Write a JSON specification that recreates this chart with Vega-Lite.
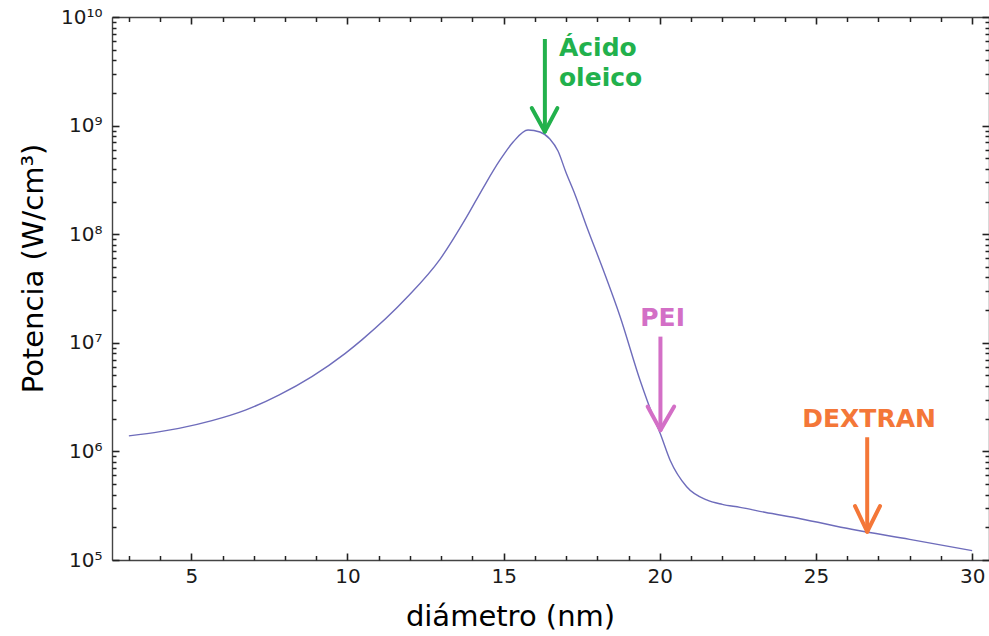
{
  "$schema": "https://vega.github.io/schema/vega-lite/v6.json",
  "width": 877,
  "height": 543,
  "autosize": {"type": "none"},
  "padding": {"left": 112, "top": 17, "right": 0, "bottom": 76},
  "background": "white",
  "config": {
    "view": {"stroke": null},
    "font": "DejaVu Sans",
    "axis": {
      "grid": false,
      "domainColor": "#444444",
      "domainWidth": 1.4,
      "labelFont": "DejaVu Sans",
      "labelFontSize": 20,
      "labelColor": "#1a1a1a",
      "titleFont": "DejaVu Sans",
      "titleFontSize": 29,
      "titleFontWeight": "normal",
      "titleColor": "#000000"
    }
  },
  "datasets": {
    "curve": [
      {"d": 3.0, "p": 1390000},
      {"d": 4.0, "p": 1520000},
      {"d": 4.6, "p": 1630000},
      {"d": 5.66, "p": 1920000},
      {"d": 6.73, "p": 2400000},
      {"d": 7.8, "p": 3300000},
      {"d": 8.86, "p": 4890000},
      {"d": 9.93, "p": 8000000},
      {"d": 10.47, "p": 10700000},
      {"d": 11.9, "p": 26100000},
      {"d": 12.96, "p": 58700000},
      {"d": 13.82, "p": 145000000},
      {"d": 14.35, "p": 269000000},
      {"d": 14.88, "p": 480000000},
      {"d": 15.31, "p": 710000000},
      {"d": 15.78, "p": 910000000},
      {"d": 16.16, "p": 873000000},
      {"d": 16.48, "p": 753000000},
      {"d": 16.74, "p": 583000000},
      {"d": 16.99, "p": 374000000},
      {"d": 17.29, "p": 230000000},
      {"d": 17.66, "p": 117000000},
      {"d": 18.19, "p": 46800000},
      {"d": 18.73, "p": 17400000},
      {"d": 19.37, "p": 4500000},
      {"d": 19.79, "p": 2090000},
      {"d": 20.01, "p": 1470000},
      {"d": 20.33, "p": 830000},
      {"d": 20.86, "p": 473000},
      {"d": 21.5, "p": 357000},
      {"d": 22.0, "p": 325000},
      {"d": 22.57, "p": 305000},
      {"d": 23.36, "p": 275000},
      {"d": 24.5, "p": 240000},
      {"d": 26.14, "p": 192000},
      {"d": 28.0, "p": 155000},
      {"d": 30.0, "p": 122000}
    ],
    "arrows": [
      {"g": "oleico", "part": "shaft", "x": 16.32, "y": 6270000000, "x2": 16.32, "y2": 879000000},
      {"g": "oleico", "part": "head", "x": 15.9, "y": 1450000000, "x2": 16.32, "y2": 879000000},
      {"g": "oleico", "part": "head", "x": 16.72, "y": 1450000000, "x2": 16.32, "y2": 879000000},
      {"g": "PEI", "part": "shaft", "x": 20.02, "y": 11400000, "x2": 20.02, "y2": 1570000},
      {"g": "PEI", "part": "head", "x": 19.61, "y": 2590000, "x2": 20.02, "y2": 1570000},
      {"g": "PEI", "part": "head", "x": 20.46, "y": 2590000, "x2": 20.02, "y2": 1570000},
      {"g": "DEXTRAN", "part": "shaft", "x": 26.64, "y": 1350000, "x2": 26.64, "y2": 182000},
      {"g": "DEXTRAN", "part": "head", "x": 26.25, "y": 314000, "x2": 26.64, "y2": 182000},
      {"g": "DEXTRAN", "part": "head", "x": 27.05, "y": 314000, "x2": 26.64, "y2": 182000}
    ],
    "labels": [
      {"g": "oleico", "t": "Ácido", "x": 16.77, "y": 5190000000, "al": "left"},
      {"g": "oleico", "t": "oleico", "x": 16.77, "y": 2740000000, "al": "left"},
      {"g": "PEI", "t": "PEI", "x": 20.09, "y": 16800000, "al": "center"},
      {"g": "DEXTRAN", "t": "DEXTRAN", "x": 26.7, "y": 1980000, "al": "center"}
    ]
  },
  "layer": [
    {
      "data": {"name": "curve"},
      "mark": {"type": "line", "color": "#6e6cbb", "strokeWidth": 1.4, "interpolate": "monotone", "clip": true},
      "encoding": {
        "x": {
          "field": "d", "type": "quantitative",
          "scale": {"domain": [2.46, 30.54], "nice": false, "zero": false},
          "axis": {"orient": "bottom", "values": [5, 10, 15, 20, 25, 30], "ticks": false, "labelPadding": 6, "title": "diámetro (nm)", "titlePadding": 16, "titleX": 398, "labelFlush": false}
        },
        "y": {
          "field": "p", "type": "quantitative",
          "scale": {"type": "log", "domain": [100000, 10000000000], "nice": false},
          "axis": {
            "orient": "left",
            "values": [100000, 1000000, 10000000, 100000000, 1000000000, 10000000000],
            "ticks": false, "labelPadding": 10,
            "labelExpr": "'10' + ['⁰','¹','²','³','⁴','⁵','⁶','⁷','⁸','⁹','¹⁰'][round(log(datum.value)/LN10)]",
            "title": "Potencia (W/cm³)", "titlePadding": 12, "titleY": 251
          }
        }
      }
    },
    {
      "data": {"name": "arrows"},
      "transform": [{"filter": "datum.part === 'shaft'"}],
      "mark": {"type": "rule", "strokeWidth": 4, "strokeCap": "butt"},
      "encoding": {
        "x": {"field": "x", "type": "quantitative",
          "axis": {"orient": "top", "offset": -543, "values": [5, 10, 15, 20, 25, 30], "ticks": true, "tickSize": 7, "tickWidth": 1.6, "tickColor": "#222222", "labels": false, "domain": false, "title": null}},
        "y": {"field": "y", "type": "quantitative",
          "axis": {"orient": "right", "offset": -877, "values": [100000, 1000000, 10000000, 100000000, 1000000000, 10000000000], "ticks": true, "tickSize": 7, "tickWidth": 1.6, "tickColor": "#222222", "labels": false, "domain": false, "title": null}},
        "x2": {"field": "x2"},
        "y2": {"field": "y2"},
        "color": {"field": "g", "type": "nominal", "scale": {"domain": ["oleico", "PEI", "DEXTRAN"], "range": ["#22b14c", "#d36fc6", "#f47738"]}, "legend": null}
      }
    },
    {
      "data": {"name": "arrows"},
      "transform": [{"filter": "datum.part === 'head'"}],
      "mark": {"type": "rule", "strokeWidth": 4, "strokeCap": "round"},
      "encoding": {
        "x": {"field": "x", "type": "quantitative",
          "axis": {"orient": "top", "offset": -543, "values": [3, 4, 6, 7, 8, 9, 11, 12, 13, 14, 16, 17, 18, 19, 21, 22, 23, 24, 26, 27, 28, 29], "ticks": true, "tickSize": 4.5, "tickWidth": 1.5, "tickColor": "#222222", "labels": false, "domain": false, "title": null}},
        "y": {"field": "y", "type": "quantitative",
          "axis": {"orient": "right", "offset": -877, "values": [200000, 300000, 400000, 500000, 600000, 700000, 800000, 900000, 2000000, 3000000, 4000000, 5000000, 6000000, 7000000, 8000000, 9000000, 20000000, 30000000, 40000000, 50000000, 60000000, 70000000, 80000000, 90000000, 200000000, 300000000, 400000000, 500000000, 600000000, 700000000, 800000000, 900000000, 2000000000, 3000000000, 4000000000, 5000000000, 6000000000, 7000000000, 8000000000, 9000000000], "ticks": true, "tickSize": 4, "tickWidth": 1.5, "tickColor": "#222222", "labels": false, "domain": false, "title": null}},
        "x2": {"field": "x2"},
        "y2": {"field": "y2"},
        "color": {"field": "g", "type": "nominal", "legend": null}
      }
    },
    {
      "data": {"name": "labels"},
      "transform": [{"filter": "datum.al === 'left'"}],
      "mark": {"type": "text", "align": "left", "baseline": "middle", "fontSize": 25, "fontWeight": "bold", "font": "DejaVu Sans"},
      "encoding": {
        "x": {"field": "x", "type": "quantitative",
          "axis": {"orient": "bottom", "offset": -543, "values": [5, 10, 15, 20, 25, 30], "ticks": true, "tickSize": 7, "tickWidth": 1.6, "tickColor": "#222222", "labels": false, "domain": true, "title": null}},
        "y": {"field": "y", "type": "quantitative",
          "axis": {"orient": "left", "offset": -877, "values": [100000, 1000000, 10000000, 100000000, 1000000000, 10000000000], "ticks": true, "tickSize": 7, "tickWidth": 1.6, "tickColor": "#222222", "labels": false, "domain": true, "title": null}},
        "text": {"field": "t"},
        "color": {"field": "g", "type": "nominal", "legend": null}
      }
    },
    {
      "data": {"name": "labels"},
      "transform": [{"filter": "datum.al === 'center'"}],
      "mark": {"type": "text", "align": "center", "baseline": "middle", "fontSize": 25, "fontWeight": "bold", "font": "DejaVu Sans"},
      "encoding": {
        "x": {"field": "x", "type": "quantitative",
          "axis": {"orient": "bottom", "offset": -543, "values": [3, 4, 6, 7, 8, 9, 11, 12, 13, 14, 16, 17, 18, 19, 21, 22, 23, 24, 26, 27, 28, 29], "ticks": true, "tickSize": 4.5, "tickWidth": 1.5, "tickColor": "#222222", "labels": false, "domain": false, "title": null}},
        "y": {"field": "y", "type": "quantitative",
          "axis": {"orient": "left", "offset": -877, "values": [200000, 300000, 400000, 500000, 600000, 700000, 800000, 900000, 2000000, 3000000, 4000000, 5000000, 6000000, 7000000, 8000000, 9000000, 20000000, 30000000, 40000000, 50000000, 60000000, 70000000, 80000000, 90000000, 200000000, 300000000, 400000000, 500000000, 600000000, 700000000, 800000000, 900000000, 2000000000, 3000000000, 4000000000, 5000000000, 6000000000, 7000000000, 8000000000, 9000000000], "ticks": true, "tickSize": 4, "tickWidth": 1.5, "tickColor": "#222222", "labels": false, "domain": false, "title": null}},
        "text": {"field": "t"},
        "color": {"field": "g", "type": "nominal", "legend": null}
      }
    }
  ],
  "resolve": {"axis": {"x": "independent", "y": "independent"}}
}
